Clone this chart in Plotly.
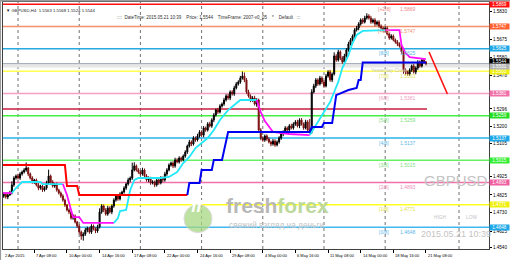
import plotly.graph_objects as go

# ---------------- data ----------------
first_open = 1.4825
closes = [
    1.4819, 1.4830, 1.4814, 1.4825, 1.4836, 1.4880, 1.4918, 1.4929, 1.4918, 1.4940,
    1.4951, 1.4962, 1.4973, 1.4940, 1.4918, 1.4896, 1.4907, 1.4880, 1.4863, 1.4874,
    1.4852, 1.4863, 1.4891, 1.4929, 1.4896, 1.4874, 1.4885, 1.4852, 1.4836, 1.4819,
    1.4797, 1.4770, 1.4743, 1.4732, 1.4699, 1.4710, 1.4677, 1.4655, 1.4622, 1.4600,
    1.4611, 1.4633, 1.4644, 1.4622, 1.4655, 1.4639, 1.4628, 1.4650, 1.4732, 1.4765,
    1.4743, 1.4721, 1.4754, 1.4732, 1.4765, 1.4797, 1.4819, 1.4803, 1.4830, 1.4841,
    1.4863, 1.4885, 1.4907, 1.4918, 1.4962, 1.4984, 1.4962, 1.4951, 1.4940, 1.4962,
    1.4929, 1.4907, 1.4918, 1.4891, 1.4896, 1.4880, 1.4907, 1.4891, 1.4918, 1.4907,
    1.4940, 1.4962, 1.4989, 1.5000, 1.4984, 1.5017, 1.5006, 1.5027, 1.5017, 1.5038,
    1.5060, 1.5093, 1.5115, 1.5104, 1.5137, 1.5126, 1.5148, 1.5170, 1.5153, 1.5192,
    1.5181, 1.5214, 1.5203, 1.5236, 1.5263, 1.5290, 1.5279, 1.5312, 1.5323, 1.5345,
    1.5367, 1.5356, 1.5389, 1.5378, 1.5411, 1.5433, 1.5444, 1.5465, 1.5476, 1.5455,
    1.5389, 1.5367, 1.5345, 1.5356, 1.5323, 1.5345, 1.5181, 1.5137, 1.5126, 1.5148,
    1.5131, 1.5115, 1.5104, 1.5120, 1.5099, 1.5115, 1.5137, 1.5159, 1.5170, 1.5192,
    1.5181, 1.5203, 1.5192, 1.5214, 1.5225, 1.5203, 1.5236, 1.5214, 1.5192, 1.5225,
    1.5181, 1.5170, 1.5389, 1.5422, 1.5455, 1.5433, 1.5465, 1.5444, 1.5422, 1.5476,
    1.5498, 1.5455, 1.5487, 1.5586, 1.5564, 1.5608, 1.5575, 1.5553, 1.5586, 1.5619,
    1.5652, 1.5674, 1.5695, 1.5728, 1.5739, 1.5761, 1.5783, 1.5772, 1.5794, 1.5805,
    1.5794, 1.5772, 1.5783, 1.5761, 1.5772, 1.5750, 1.5739, 1.5728, 1.5739, 1.5706,
    1.5685, 1.5695, 1.5674, 1.5663, 1.5652, 1.5641, 1.5608, 1.5509, 1.5498, 1.5487,
    1.5509, 1.5531, 1.5498, 1.5520, 1.5553, 1.5531, 1.5564, 1.5553, 1.5544,
]
upper_wick_pips = [
    10, 8, 6, 9, 12, 20, 10, 8, 12, 10,
    8, 10, 30, 6, 8, 10, 6, 8, 10, 7,
    8, 10, 12, 35, 8, 10, 6, 9, 7, 8,
    10, 8, 6, 9, 7, 10, 8, 6, 9, 8,
    10, 12, 8, 6, 10, 8, 9, 12, 20, 10,
    8, 10, 12, 9, 8, 10, 7, 9, 10, 8,
    10, 8, 12, 9, 40, 20, 8, 10, 9, 12,
    8, 10, 9, 7, 10, 8, 9, 6, 10, 8,
    12, 10, 9, 8, 10, 12, 9, 10, 8, 9,
    10, 8, 12, 9, 10, 8, 12, 10, 9, 10,
    8, 10, 12, 9, 10, 8, 12, 10, 9, 12,
    10, 12, 9, 10, 12, 10, 9, 12, 25, 20,
    10, 12, 9, 10, 12, 10, 8, 10, 9, 8,
    9, 10, 8, 12, 10, 9, 10, 12, 9, 10,
    8, 10, 12, 9, 10, 12, 9, 10, 8, 12,
    10, 60, 15, 12, 10, 9, 12, 10, 9, 12,
    10, 12, 9, 20, 10, 12, 9, 10, 12, 10,
    12, 10, 9, 10, 12, 10, 9, 10, 12, 15,
    10, 12, 9, 10, 8, 10, 9, 8, 10, 9,
    8, 10, 9, 8, 10, 9, 8, 10, 9, 8,
    10, 8, 12, 9, 10, 8, 9, 8, 6,
]
lower_wick_pips = [
    8, 10, 9, 12, 6, 8, 10, 9, 8, 10,
    9, 8, 10, 12, 8, 9, 10, 8, 12, 9,
    10, 8, 9, 10, 12, 8, 10, 9, 8, 10,
    9, 10, 8, 12, 9, 10, 8, 10, 12, 20,
    25, 10, 12, 9, 10, 8, 12, 10, 8, 10,
    12, 9, 10, 8, 12, 10, 9, 10, 8, 9,
    8, 10, 9, 12, 10, 8, 9, 10, 8, 9,
    10, 9, 12, 10, 8, 12, 9, 10, 8, 12,
    9, 10, 8, 9, 12, 10, 8, 9, 10, 8,
    9, 10, 8, 12, 9, 10, 8, 9, 10, 12,
    10, 9, 8, 10, 12, 9, 10, 8, 9, 10,
    8, 10, 12, 9, 10, 8, 9, 10, 8, 12,
    10, 9, 12, 10, 8, 15, 10, 12, 9, 10,
    10, 8, 12, 9, 10, 8, 9, 10, 12, 9,
    10, 12, 8, 9, 10, 8, 12, 9, 10, 8,
    12, 9, 10, 8, 12, 10, 9, 12, 10, 8,
    9, 10, 12, 8, 10, 9, 12, 10, 8, 9,
    10, 8, 9, 10, 8, 12, 9, 10, 8, 9,
    9, 10, 8, 12, 9, 10, 8, 9, 10, 8,
    10, 9, 8, 10, 12, 9, 10, 20, 15, 10,
    9, 10, 8, 12, 10, 9, 8, 10, 9,
]

# fast line (cyan rising / magenta falling)
fast_x = [0, 5, 7, 10, 19, 20, 30, 32, 34, 35, 38, 40, 55, 57, 58, 61, 63, 65, 67, 78,
          82, 86, 89, 92, 95, 101, 104, 107, 111, 115, 117, 125, 127, 129, 131, 133, 141,
          151, 153, 155, 158, 161, 163, 165, 167, 170, 172, 174, 177, 188, 195, 196, 198,
          200, 203, 208]
fast_y = [1.4836, 1.4836, 1.4863, 1.4896, 1.4896, 1.4885, 1.4885, 1.4825, 1.4743, 1.4704,
          1.4704, 1.4672, 1.4672, 1.4699, 1.4737, 1.4743, 1.4852, 1.4907, 1.4918, 1.4918,
          1.4924, 1.4951, 1.5000, 1.5033, 1.5082, 1.5137, 1.5181, 1.5236, 1.5290, 1.5329,
          1.5345, 1.5345, 1.5279, 1.5230, 1.5197, 1.5170, 1.5159, 1.5153, 1.5192, 1.5225,
          1.5279, 1.5334, 1.5389, 1.5444, 1.5520, 1.5591, 1.5657, 1.5701, 1.5723, 1.5728,
          1.5728, 1.5646, 1.5602, 1.5580, 1.5575, 1.5569]
fast_turns = [0, 5, 30, 55, 125, 151, 188]
fast_turn_dir = ["down", "up", "down", "up", "down", "up", "down"]

# slow line (red bearish / blue bullish)
slow_red_x = [0, 31, 32, 37, 38, 91]
slow_red_y = [1.4989, 1.4989, 1.4874, 1.4874, 1.4825, 1.4825]
slow_blue_x = [91, 92, 97, 98, 103, 104, 108, 111, 151, 152, 157, 158, 162, 164, 170, 174,
               175, 176, 177, 208]
slow_blue_y = [1.4825, 1.4891, 1.4891, 1.4962, 1.4962, 1.5017, 1.5017, 1.5170, 1.5170,
               1.5197, 1.5197, 1.5219, 1.5219, 1.5372, 1.5400, 1.5411, 1.5455, 1.5455,
               1.5550, 1.5550]

# Murrey math levels
levels = [1.5869, 1.5747, 1.5625, 1.5503, 1.5381, 1.5259, 1.5137, 1.5015, 1.4893, 1.4771, 1.4648]
level_names = ["[+2/8]", "[+1/8]", "[8/8]", "[7/8]", "[6/8]", "[5/8]", "[4/8]", "[3/8]",
               "[2/8]", "[1/8]", "[0/8]"]
level_line_colors = ["#FF1010", "#F4906C", "#29A9E1", "#FFFF50", "#F4A0C4", "#44F044",
                     "#29B4EC", "#66F066", "#F070A8", "#FFFF20", "#40B8F0"]
level_text_colors = ["#F08888", "#F09070", "#60B8E8", "#E0E050", "#F0A0C0", "#80E080",
                     "#60B8E8", "#80E080", "#F090B8", "#E0E040", "#60B8E8"]
level_box_colors = ["#FF1010", "#FF6030", "#1EA8E8", "#F0F010", "#F070A8", "#22DD22",
                    "#1EA8E8", "#33EE33", "#F060A0", "#F0F010", "#1EA8E8"]

bid_price = 1.5544
yesterday_close = 1.5531
support_level = 1.5296
trend_x = [209.5, 218.5]
trend_y = [1.5608, 1.5378]

price_ticks = [1.5830, 1.5675, 1.5580, 1.5478, 1.5296, 1.5200, 1.5105, 1.4925, 1.4825,
               1.4730, 1.4625, 1.4540]
time_label_bars = [0, 16, 32, 48, 64, 80, 96, 112, 128, 144, 160, 176, 192, 208]
time_labels = ["2 Apr 2015", "7 Apr 08:00", "10 Apr 00:00", "14 Apr 16:00", "17 Apr 08:00",
               "22 Apr 00:00", "24 Apr 16:00", "29 Apr 08:00", "4 May 00:00", "6 May 16:00",
               "11 May 08:00", "14 May 00:00", "18 May 16:00", "21 May 08:00"]
week_start_bars = [8, 38, 68, 98, 128, 158, 188]
extra_vline_bar = 224.2

X_RANGE = [0.64, 238.9]

# ---------------- build ----------------
n = len(closes)
bars = list(range(n))
opens = [first_open] + closes[:-1]
highs = [max(o, c) + u * 0.0001 for o, c, u in zip(opens, closes, upper_wick_pips)]
lows = [min(o, c) - d * 0.0001 for o, c, d in zip(opens, closes, lower_wick_pips)]

FONT = "Liberation Sans, Arial, sans-serif"
fig = go.Figure()

fig.add_trace(go.Candlestick(
    x=bars, open=opens, high=highs, low=lows, close=closes,
    increasing=dict(line=dict(color="#000000", width=1), fillcolor="#000000"),
    decreasing=dict(line=dict(color="#7A1010", width=1), fillcolor="#7A1010"),
    whiskerwidth=0, hoverinfo="skip", showlegend=False))

# fast line split by direction
for k, start in enumerate(fast_turns):
    end = fast_turns[k + 1] if k + 1 < len(fast_turns) else fast_x[-1]
    xs = [x for x in fast_x if start <= x <= end]
    ys = [y for x, y in zip(fast_x, fast_y) if start <= x <= end]
    col = "#22E8F8" if fast_turn_dir[k] == "up" else "#FF10FF"
    fig.add_trace(go.Scatter(x=xs, y=ys, mode="lines", line=dict(color=col, width=1.8),
                             hoverinfo="skip", showlegend=False))

fig.add_trace(go.Scatter(x=slow_red_x, y=slow_red_y, mode="lines",
                         line=dict(color="#FF0000", width=2), hoverinfo="skip", showlegend=False))
fig.add_trace(go.Scatter(x=slow_blue_x, y=slow_blue_y, mode="lines",
                         line=dict(color="#0000F0", width=2), hoverinfo="skip", showlegend=False))
fig.add_trace(go.Scatter(x=trend_x, y=trend_y, mode="lines",
                         line=dict(color="#FF1010", width=1.6), hoverinfo="skip", showlegend=False))

shapes = []
# vertical dotted grid
for b in week_start_bars + [extra_vline_bar]:
    shapes.append(dict(type="line", xref="x", yref="paper", x0=b, x1=b, y0=0, y1=1,
                       line=dict(color="#707070", width=1, dash="dot"), layer="below"))
# levels
for lv, lc in zip(levels, level_line_colors):
    shapes.append(dict(type="line", xref="paper", yref="y", x0=0, x1=1, y0=lv, y1=lv,
                       line=dict(color=lc, width=1.5), layer="below"))
shapes.append(dict(type="line", xref="paper", yref="y", x0=0, x1=1, y0=yesterday_close,
                   y1=yesterday_close, line=dict(color="#E6E6E6", width=3), layer="below"))
shapes.append(dict(type="line", xref="paper", yref="y", x0=0, x1=1, y0=bid_price,
                   y1=bid_price, line=dict(color="#A8B0BC", width=1.2), layer="below"))
shapes.append(dict(type="line", xref="x", yref="y", x0=0, x1=n - 0.5, y0=support_level,
                   y1=support_level, line=dict(color="#C81E3C", width=1.5), layer="below"))

# logo circle
shapes.append(dict(type="circle", xref="paper", yref="paper", x0=0.3724, x1=0.4300,
                   y0=0.066, y1=0.180, fillcolor="#A8D882", opacity=0.75,
                   line=dict(color="#D0D0D0", width=1), layer="below"))
# window border
shapes.append(dict(type="line", xref="paper", yref="paper", x0=-0.006, x1=-0.006, y0=-0.1,
                   y1=1.02, line=dict(color="#9A9A9A", width=2)))
shapes.append(dict(type="line", xref="paper", yref="paper", x0=-0.01, x1=1.05, y0=1.005,
                   y1=1.005, line=dict(color="#9A9A9A", width=1.5)))

ann = []
# level texts
for lv, nm, tc in zip(levels, level_names, level_text_colors):
    ann.append(dict(x=187.5, y=lv, xref="x", yref="y", text=nm, showarrow=False,
                    font=dict(family=FONT, size=5, color=tc), yshift=-4.5, xanchor="center"))
    ann.append(dict(x=194.5, y=lv, xref="x", yref="y", text=f"{lv:.4f}", showarrow=False,
                    font=dict(family=FONT, size=5, color=tc), yshift=-4.5, xanchor="left"))
ann.append(dict(x=180, y=yesterday_close, xref="x", yref="y", text="Yesterday Close",
                showarrow=False, font=dict(family=FONT, size=5, color="#C8C8C8"),
                yshift=-3.5, xanchor="left"))
# right axis boxes
for lv, bc in zip(levels, level_box_colors):
    ann.append(dict(x=1, y=lv, xref="paper", yref="y", text=f"{lv:.4f}", showarrow=False,
                    xanchor="left", bgcolor=bc, width=19, height=5, borderpad=0,
                    font=dict(family=FONT, size=4.6, color="#FFFFFF")))
ann.append(dict(x=1, y=bid_price + 0.0011, xref="paper", yref="y", text=f"{bid_price:.4f}",
                showarrow=False, xanchor="left", bgcolor="#000000", width=19, height=5,
                borderpad=0, font=dict(family=FONT, size=4.6, color="#FFFFFF")))
ann.append(dict(x=1, y=yesterday_close - 0.0002, xref="paper", yref="y",
                text=f"{yesterday_close:.4f}", showarrow=False, xanchor="left",
                bgcolor="#B4B4B4", width=19, height=5, borderpad=0,
                font=dict(family=FONT, size=4.6, color="#FFFFFF")))
# time labels
for b, t in zip(time_label_bars, time_labels):
    ann.append(dict(x=max(b, X_RANGE[0] + 0.05), y=0, xref="x", yref="paper", text=t,
                    showarrow=False, xanchor="left", yanchor="top", xshift=0, yshift=-2,
                    font=dict(family=FONT, size=4, color="#000000")))
# header texts
ann.append(dict(x=0.002, y=0.984, xref="paper", yref="paper",
                text="▼ GBPUSD,H4  1.5563 1.5568 1.5524 1.5544", showarrow=False,
                xanchor="left", font=dict(family=FONT, size=4.3, color="#202020")))
ann.append(dict(x=0.2305, y=0.9555, xref="paper", yref="paper",
                text="::::  DateTime: 2015.05.21 10:39    Price: 1.5544    TimeFrame: 2007-v0_05    *    Default   :::",
                showarrow=False, xanchor="left", font=dict(family=FONT, size=4.5, color="#303030")))
# watermark texts
ann.append(dict(x=0.9325, y=0.235, xref="paper", yref="paper", text="GBPUSD", showarrow=False,
                xanchor="center", font=dict(family=FONT, size=15, color="#C4C4C4")))
ann.append(dict(x=0.901, y=0.109, xref="paper", yref="paper", text="HIGH", showarrow=False,
                xanchor="center", font=dict(family=FONT, size=4.8, color="#C4C4C4")))
ann.append(dict(x=0.963, y=0.109, xref="paper", yref="paper", text="LOW", showarrow=False,
                xanchor="center", font=dict(family=FONT, size=4.8, color="#C4C4C4")))
ann.append(dict(x=0.932, y=0.032, xref="paper", yref="paper", text="2015.05.21 10:39",
                showarrow=False, xanchor="center",
                font=dict(family=FONT, size=9, color="#C4C4C4")))
# logo texts
ann.append(dict(x=0.4012, y=0.124, xref="paper", yref="paper", text="<b><i>ff</i></b>",
                showarrow=False, xanchor="center",
                font=dict(family=FONT, size=17, color="#FFFFFF")))
ann.append(dict(x=0.455, y=0.121, xref="paper", yref="paper",
                text="<b><span style='color:#B8B8B8'>fresh</span><span style='color:#BCD89C'>forex</span></b>",
                showarrow=False, xanchor="left", font=dict(family=FONT, size=21)))
ann.append(dict(x=0.4609, y=0.067, xref="paper", yref="paper", text="свежий взгляд на деньги",
                showarrow=False, xanchor="left", font=dict(family=FONT, size=8.3, color="#C4C4C4")))

fig.update_layout(
    width=510, height=260, margin=dict(l=3, r=21, t=2, b=11),
    paper_bgcolor="white", plot_bgcolor="white", showlegend=False,
    shapes=shapes, annotations=ann,
    xaxis=dict(range=X_RANGE, showgrid=False, zeroline=False, showticklabels=False,
               ticks="outside", tickvals=time_label_bars, ticklen=3, tickcolor="#000000",
               showline=True, mirror=True, linecolor="#404040", linewidth=1,
               rangeslider=dict(visible=False), fixedrange=True),
    yaxis=dict(side="right", range=[1.45293, 1.58816], tickvals=price_ticks,
               ticktext=[f"{v:.4f}" for v in price_ticks],
               tickfont=dict(family=FONT, size=4.6, color="#000000"), ticks="outside",
               ticklen=2, tickcolor="#000000", showgrid=False, zeroline=False,
               showline=True, mirror=True, linecolor="#404040", linewidth=1, fixedrange=True),
)

fig.write_html("out.html")
